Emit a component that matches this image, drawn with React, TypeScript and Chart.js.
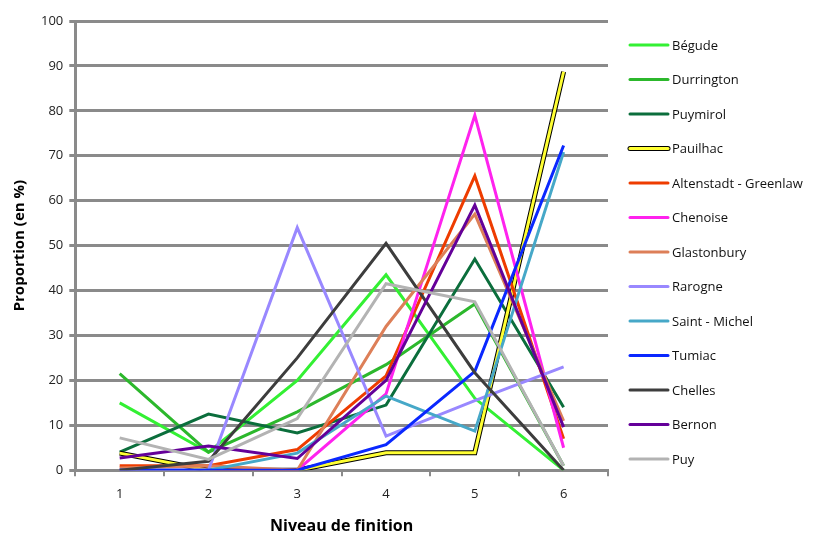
import React, { useEffect, useRef } from "react";
import { Chart, registerables } from "chart.js";

Chart.register(...registerables);

const categories = ["1", "2", "3", "4", "5", "6"];
const seriesNames = [
  "Bégude",
  "Durrington",
  "Puymirol",
  "Pauilhac",
  "Altenstadt - Greenlaw",
  "Chenoise",
  "Glastonbury",
  "Rarogne",
  "Saint - Michel",
  "Tumiac",
  "Chelles",
  "Bernon",
  "Puy",
];
const seriesColors = [
  "#33f033",
  "#2cb82c",
  "#0b6e3c",
  "#ffff33",
  "#ee3c00",
  "#ff22ee",
  "#dd7f58",
  "#9988ff",
  "#46a8c8",
  "#0a28ff",
  "#3d3d3d",
  "#640099",
  "#b3b3b3",
];
const begude = [15, 4, 20, 43.5, 16, 0];
const durrington = [21.5, 4, 13, 23.5, 37, 1];
const puymirol = [4, 12.5, 8.3, 14.5, 47, 14];
const pauilhac = [3.8, 0, 0, 3.9, 3.9, 88.7];
const altenstadt = [1, 1, 4.6, 21, 65.5, 7];
const chenoise = [0, 0, 0, 17, 79, 5];
const glastonbury = [0.5, 1, 0, 32, 57, 11];
const rarogne = [0, 0, 54, 7.6, 15.5, 23];
const saintMichel = [0, 0, 3.8, 16.5, 8.7, 70.8];
const tumiac = [0, 0, 0, 5.7, 22, 72.3];
const chelles = [0, 2, 25, 50.5, 21.7, 0];
const bernon = [2.7, 5.4, 2.6, 20, 59, 9.6];
const puy = [7.2, 2.4, 11.5, 41.5, 37.5, 1];
const seriesValues = [
  begude,
  durrington,
  puymirol,
  pauilhac,
  altenstadt,
  chenoise,
  glastonbury,
  rarogne,
  saintMichel,
  tumiac,
  chelles,
  bernon,
  puy,
];
const yTicks = [0, 10, 20, 30, 40, 50, 60, 70, 80, 90, 100];
const outlined = "Pauilhac";

const FONT = "'Open Sans', sans-serif";
const GRID = "#8a8a8a";

const sideLegend = {
  id: "sideLegend",
  afterDraw(chart: any) {
    const ctx = chart.ctx;
    const x0 = 630;
    const lineLen = 38;
    const top = 45;
    const step = 34.5;
    ctx.save();
    ctx.font = "13px " + FONT;
    ctx.textBaseline = "middle";
    ctx.textAlign = "left";
    ctx.lineCap = "round";
    let k = 0;
    chart.data.datasets.forEach((ds: any) => {
      if (ds.isOutline) return;
      const y = top + k * step;
      if (ds.label === outlined) {
        ctx.strokeStyle = "#000";
        ctx.lineWidth = 5;
        ctx.beginPath();
        ctx.moveTo(x0, y);
        ctx.lineTo(x0 + lineLen, y);
        ctx.stroke();
      }
      ctx.strokeStyle = ds.borderColor;
      ctx.lineWidth = 3;
      ctx.beginPath();
      ctx.moveTo(x0, y);
      ctx.lineTo(x0 + lineLen, y);
      ctx.stroke();
      ctx.fillStyle = "#111";
      ctx.fillText(ds.label, x0 + lineLen + 4, y + 1);
      k++;
    });
    ctx.restore();
  },
};

export default function App() {
  const ref = useRef<HTMLCanvasElement>(null);
  useEffect(() => {
    if (!ref.current) return;
    const n = seriesNames.length;
    const datasets: any[] = [];
    seriesNames.forEach((name, i) => {
      if (name === outlined) {
        datasets.push({
          label: name + "-outline",
          isOutline: true,
          data: seriesValues[i],
          borderColor: "#000",
          backgroundColor: "#000",
          borderWidth: 5,
          pointRadius: 0,
          tension: 0,
          order: n - i + 0.5,
        });
      }
      datasets.push({
        label: name,
        data: seriesValues[i],
        borderColor: seriesColors[i],
        backgroundColor: seriesColors[i],
        borderWidth: 3,
        pointRadius: 0,
        tension: 0,
        order: n - i,
      });
    });
    const chart = new Chart(ref.current, {
      type: "line",
      data: { labels: categories, datasets },
      plugins: [sideLegend],
      options: {
        animation: false,
        responsive: false,
        events: [],
        layout: { padding: { top: 21, right: 211, left: 11, bottom: 2 } },
        plugins: {
          legend: { display: false },
          tooltip: { enabled: false },
        },
        scales: {
          x: {
            type: "category",
            offset: true,
            grid: {
              offset: true,
              drawOnChartArea: false,
              drawTicks: true,
              tickLength: 6,
              color: GRID,
              lineWidth: 2,
            },
            border: { display: true, color: GRID, width: 3 },
            ticks: { color: "#222", font: { family: FONT, size: 13 }, padding: 10 },
            title: {
              display: true,
              text: "Niveau de finition",
              color: "#000",
              font: { family: FONT, size: 16, weight: "bold" },
              padding: { top: 5, bottom: 0 },
            },
          },
          y: {
            min: 0,
            max: 100,
            afterBuildTicks: (axis: any) => {
              axis.ticks = yTicks.map((v) => ({ value: v }));
            },
            grid: {
              color: GRID,
              lineWidth: 3,
              drawTicks: true,
              tickLength: 6,
            },
            border: { display: true, color: GRID, width: 3 },
            ticks: { color: "#222", font: { family: FONT, size: 13 }, padding: 6 },
            title: {
              display: true,
              text: "Proportion (en %)",
              color: "#000",
              font: { family: FONT, size: 15, weight: "bold" },
              padding: { top: 0, bottom: 6 },
            },
          },
        },
      } as any,
    });
    return () => chart.destroy();
  }, []);
  return (
    <div style={{ position: "fixed", left: 0, top: 0, width: 819, height: 538, background: "#fff" }}>
      <canvas ref={ref} width={819} height={538} style={{ display: "block" }} />
    </div>
  );
}
